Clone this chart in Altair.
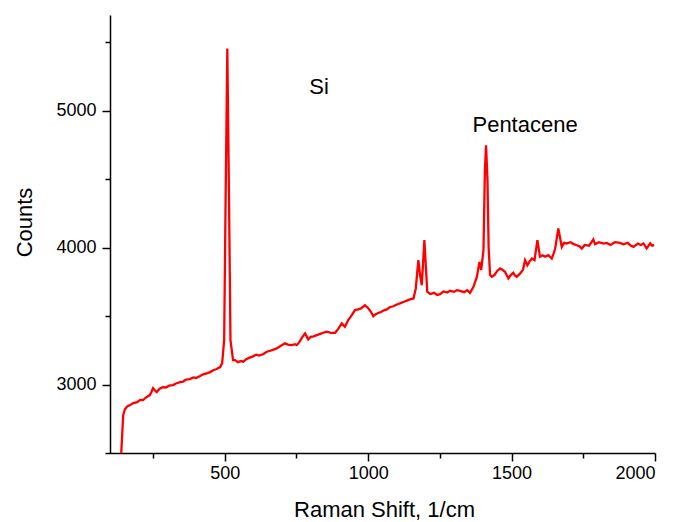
import altair as alt
import pandas as pd

# Raman spectrum
shift = [138, 146, 152, 160, 170, 181, 195, 205, 215, 225, 239, 245, 250, 256, 263, 272, 285, 295, 306, 320,
         330, 344, 355, 365, 379, 390, 400, 414, 425, 437, 449, 460, 470, 484, 491, 498, 503, 509, 515, 520,
         529, 536, 546, 556, 565, 575, 585, 600, 610, 620, 635, 645, 658, 670, 681, 692, 700, 710, 720, 734,
         745, 751, 760, 770, 780, 791, 800, 810, 821, 835, 845, 856, 870, 885, 895, 908, 919, 930, 943, 954,
         965, 975, 989, 1001, 1010, 1018, 1025, 1036, 1045, 1055, 1065, 1075, 1088, 1100, 1111, 1125, 1137, 1146, 1158, 1166,
         1175, 1181, 1187, 1196, 1206, 1216, 1230, 1240, 1251, 1262, 1275, 1286, 1300, 1310, 1320, 1335, 1345, 1355, 1367, 1379,
         1388, 1394, 1402, 1407, 1411, 1416, 1420, 1425, 1431, 1440, 1450, 1460, 1470, 1477, 1489, 1497, 1506, 1512, 1518, 1530,
         1540, 1547, 1555, 1563, 1571, 1580, 1590, 1599, 1608, 1617, 1628, 1640, 1647, 1652, 1663, 1675, 1683, 1692, 1705, 1715,
         1727, 1737, 1745, 1755, 1770, 1785, 1791, 1805, 1820, 1832, 1845, 1860, 1878, 1890, 1905, 1915, 1925, 1940, 1950, 1960,
         1971, 1983, 1990, 1997]
counts = [2450, 2777, 2820, 2840, 2850, 2865, 2872, 2888, 2887, 2905, 2923, 2950, 2974, 2958, 2945, 2968, 2982, 2978, 2992, 2996,
          3008, 3018, 3022, 3036, 3040, 3052, 3048, 3062, 3075, 3082, 3091, 3105, 3112, 3128, 3157, 3325, 4347, 5456, 4347, 3325,
          3179, 3179, 3164, 3172, 3167, 3185, 3195, 3208, 3218, 3212, 3223, 3238, 3247, 3255, 3264, 3278, 3290, 3301, 3292, 3288,
          3295, 3288, 3310, 3345, 3374, 3330, 3348, 3352, 3361, 3372, 3380, 3386, 3378, 3378, 3405, 3447, 3422, 3470, 3507, 3544,
          3550, 3556, 3580, 3556, 3530, 3500, 3512, 3524, 3530, 3542, 3549, 3565, 3572, 3585, 3593, 3605, 3615, 3622, 3629, 3702,
          3909, 3800, 3726, 4055, 3678, 3661, 3670, 3655, 3661, 3680, 3672, 3685, 3678, 3690, 3685, 3675, 3690, 3670, 3714, 3787,
          3896, 3836, 3982, 4566, 4748, 4493, 4000, 3800, 3787, 3800, 3830, 3848, 3835, 3824, 3775, 3800, 3816, 3795, 3787, 3812,
          3840, 3909, 3872, 3900, 3921, 3909, 4055, 3934, 3945, 3934, 3945, 3921, 3960, 3994, 4140, 4006, 4035, 4031, 4040, 4028,
          4018, 4010, 3994, 4020, 4015, 4060, 4026, 4040, 4030, 4035, 4020, 4040, 4035, 4025, 4035, 4015, 4006, 4030, 4020, 4031,
          3994, 4031, 4015, 4018]

label_text = ["Si", "Pentacene"]
label_x = [829, 1547]
label_y = [5172, 4894]

x_ticks = [250, 500, 750, 1000, 1250, 1500, 1750, 2000]
y_ticks = [2500, 3000, 3500, 4000, 4500, 5000, 5500]

spec = pd.DataFrame({"shift": shift, "counts": counts})
labels = pd.DataFrame({"t": label_text, "x": label_x, "y": label_y})

FONT = "Liberation Sans"

x_scale = alt.Scale(domain=[100, 2000], nice=False, zero=False)
y_scale = alt.Scale(domain=[2500, 5700], nice=False, zero=False)

x_axis = alt.Axis(
    values=x_ticks,
    labelExpr="datum.value % 500 === 0 ? datum.label : ''",
    tickSize={"condition": {"test": "datum.value % 500 === 0", "value": 8}, "value": 5},
    format="d",
    grid=False,
    title="Raman Shift, 1/cm",
    titleX=274, titleY=56, titleAlign="center", titleBaseline="middle",
)
y_axis = alt.Axis(
    values=y_ticks,
    labelExpr="datum.value % 1000 === 0 ? datum.label : ''",
    tickSize={"condition": {"test": "datum.value % 1000 === 0", "value": 8}, "value": 5},
    format="d",
    grid=False,
    title="Counts",
    titleX=-86, titleY=207, titleAlign="center", titleBaseline="middle", titleAngle=-90,
)

line = alt.Chart(spec).mark_line(color="#ff0000", strokeWidth=2.3, clip=True).encode(
    x=alt.X("shift:Q", scale=x_scale, axis=x_axis),
    y=alt.Y("counts:Q", scale=y_scale, axis=y_axis),
)

text = alt.Chart(labels).mark_text(font=FONT, fontSize=22, color="black", align="center", baseline="middle").encode(
    x=alt.X("x:Q", scale=x_scale),
    y=alt.Y("y:Q", scale=y_scale),
    text="t:N",
)

chart = alt.layer(line, text).properties(
    width=545, height=438,
    autosize=alt.AutoSizeParams(type="none"),
    padding={"left": 102, "top": 7, "right": 12, "bottom": 68},
).configure_view(stroke=None).configure_axis(
    domainColor="black", domainWidth=1.5, tickColor="black", tickWidth=1.5,
    labelFont=FONT, labelFontSize=18, labelColor="black", labelPadding=3,
    titleFont=FONT, titleFontSize=22, titleFontWeight="normal", titleColor="black",
).configure_axisY(labelPadding=6)

chart.save("out.html", embed_options={"renderer": "svg", "actions": False})
